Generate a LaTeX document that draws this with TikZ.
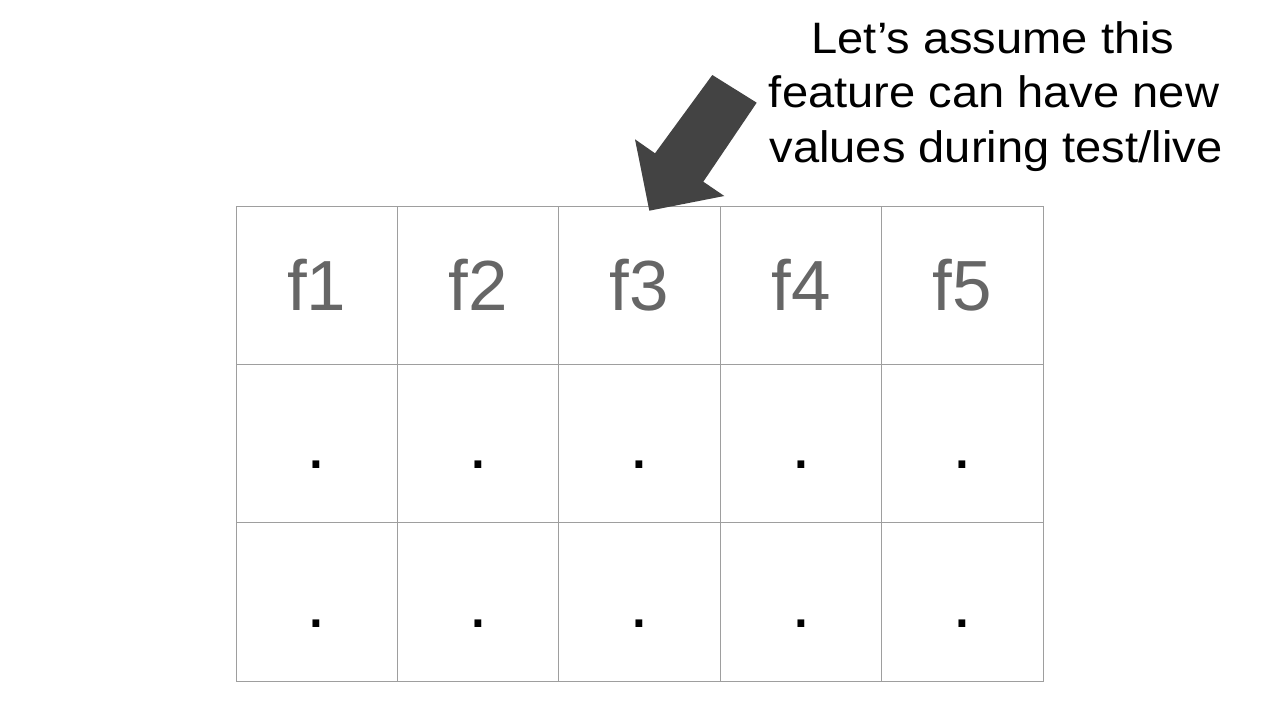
\documentclass[tikz,border=0pt]{standalone}
\usepackage{fontspec}
\usepackage{graphicx}
\setmainfont{Liberation Sans}
\definecolor{gridgray}{HTML}{9E9E9E}
\definecolor{labelgray}{HTML}{666666}
\definecolor{arrowgray}{HTML}{434343}
\newcommand{\wideline}[1]{\scalebox{1.07}[1]{#1}}
\tikzset{
  cell/.style={draw=gridgray, line width=1pt, minimum width=161.4pt, minimum height=158.3pt, inner sep=0pt, outer sep=0pt},
  head/.style={anchor=base, inner sep=0pt, text=labelgray, font=\fontsize{71}{71}\selectfont},
  dotlbl/.style={anchor=base, inner sep=0pt, text=black, font=\fontsize{71}{71}\selectfont},
  note/.style={anchor=base, inner sep=0pt, text=black, font=\fontsize{44}{54}\selectfont},
}
\begin{document}
\begin{tikzpicture}[x=1pt, y=-1pt]
\useasboundingbox (0,0) rectangle (1280,720);
% cells
\foreach \c in {1,...,5}{
  \foreach \r in {1,2,3}{
    \node[cell] (c\c r\r) at ({236+161.4*(\c-0.5)}, {206.3+158.3*(\r-0.5)}) {};
  }
}
% header labels and dots
\foreach \c in {1,...,5}{
  \node[head] (h\c) at ([yshift=-25.2pt]c\c r1.center) {f\c};
  \node[dotlbl] (d\c a) at ([yshift=-25.2pt]c\c r2.center) {.};
  \node[dotlbl] (d\c b) at ([yshift=-25.2pt]c\c r3.center) {.};
}
% note text
\node[note] (n1) at (993,53.3) {\wideline{Let’s assume this}};
\node[note] (n2) at (994,107.8) {\wideline{feature can have new}};
\node[note] (n3) at (996,162.3) {\wideline{values during test/live}};
% block arrow
\coordinate (a1) at (712.3,75);
\coordinate (a2) at (756.7,102.7);
\coordinate (a3) at (703.3,181.7);
\coordinate (a4) at (724.3,196);
\coordinate (a5) at (649.3,210.7);
\coordinate (a6) at (635,139.3);
\coordinate (a7) at (655,153.3);
\fill[arrowgray] (a1) -- (a2) -- (a3) -- (a4) -- (a5) -- (a6) -- (a7) -- cycle;
\end{tikzpicture}
\end{document}
